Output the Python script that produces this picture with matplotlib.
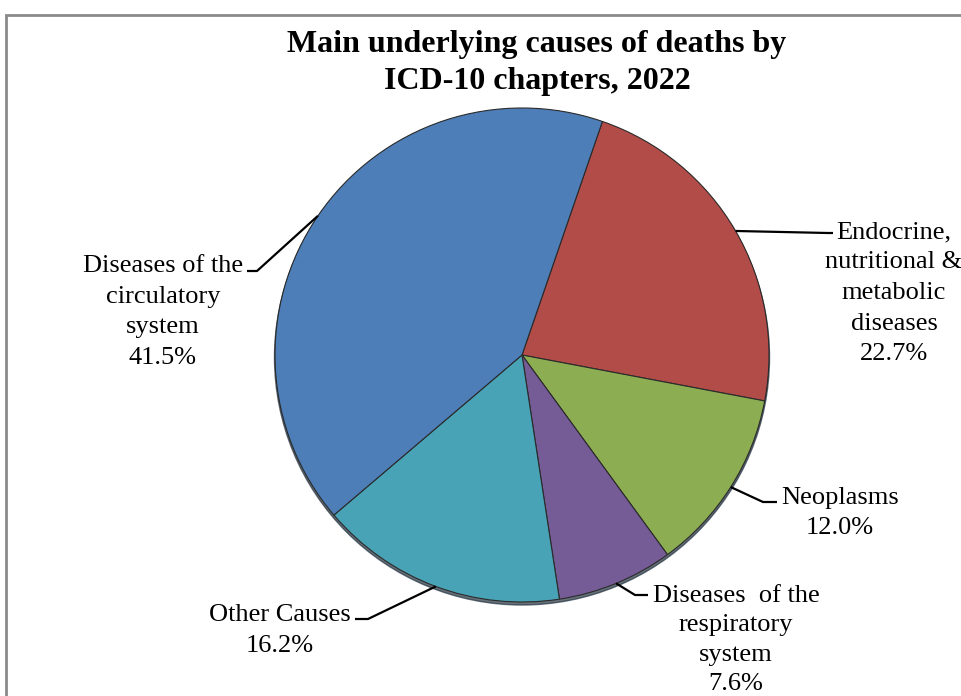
import numpy as np
import matplotlib.pyplot as plt
from matplotlib.patches import Rectangle, Ellipse

# data
labels = ['Endocrine,\nnutritional &\nmetabolic\ndiseases',
          'Neoplasms',
          'Diseases  of the\nrespiratory\nsystem',
          'Other Causes',
          'Diseases of the\ncirculatory\nsystem']
shares = [22.7, 12.0, 7.6, 16.2, 41.5]
colors = ['#B24C49', '#8DAD53', '#765C96', '#48A3B6', '#4D7EB8']
title = 'Main underlying causes of deaths by\nICD-10 chapters, 2022'

plt.rcParams['font.family'] = ['Liberation Serif', 'DejaVu Serif']

W, H = 962, 696
fig = plt.figure(figsize=(W / 100, H / 100), dpi=100)
ax = fig.add_axes([0, 0, 1, 1])

# grey frame (runs off the right and bottom edges)
ax.add_patch(Rectangle((6, -20), W + 20, H - 15 + 20, fill=False,
                       edgecolor='#8a8a8a', lw=2, clip_on=False))

cx, cy, r = 522, H - 355, 247

# dark rim under the pie
ax.add_patch(Ellipse((cx, cy - 2.5), 2 * r + 1, 2 * r + 1,
                     color='#243340', alpha=0.7, zorder=1))

wedges, _ = ax.pie(shares, colors=colors, startangle=71, counterclock=False,
                   center=(cx, cy), radius=r, frame=True,
                   wedgeprops=dict(edgecolor='#2a2a2a', linewidth=0.8, zorder=2))
ax.set_xlim(0, W)
ax.set_ylim(0, H)
ax.axis('off')

# label layout: (text center x, text top y, elbow, line end, line spacing)
layout = [
    (894, 221, (828, 233), (833, 233), 1.5),
    (840, 487, (763, 502), (777, 502), 1.5),
    (736, 585, (635, 595), (648, 595), 1.44),
    (280, 604, (368, 619), (355, 619), 1.5),
    (163, 255, (257, 271), (247, 271), 1.5),
]

for w, lab, val, (tx, ty, elbow, end, ls) in zip(wedges, labels, shares, layout):
    mid = np.deg2rad((w.theta1 + w.theta2) / 2)
    sx = cx + r * np.cos(mid)
    sy = cy + r * np.sin(mid)
    ax.plot([sx, elbow[0], end[0]], [sy, H - elbow[1], H - end[1]],
            color='black', lw=1.6, zorder=3, solid_capstyle='butt')
    ax.text(tx, H - ty, f'{lab}\n{val:.1f}%', ha='center', va='top',
            multialignment='center', fontsize=19, linespacing=ls, zorder=4)

ax.text(537, H - 30, title, ha='center', va='top', fontsize=23,
        fontweight='bold', linespacing=1.35)

fig.savefig('out.png', dpi=100)
